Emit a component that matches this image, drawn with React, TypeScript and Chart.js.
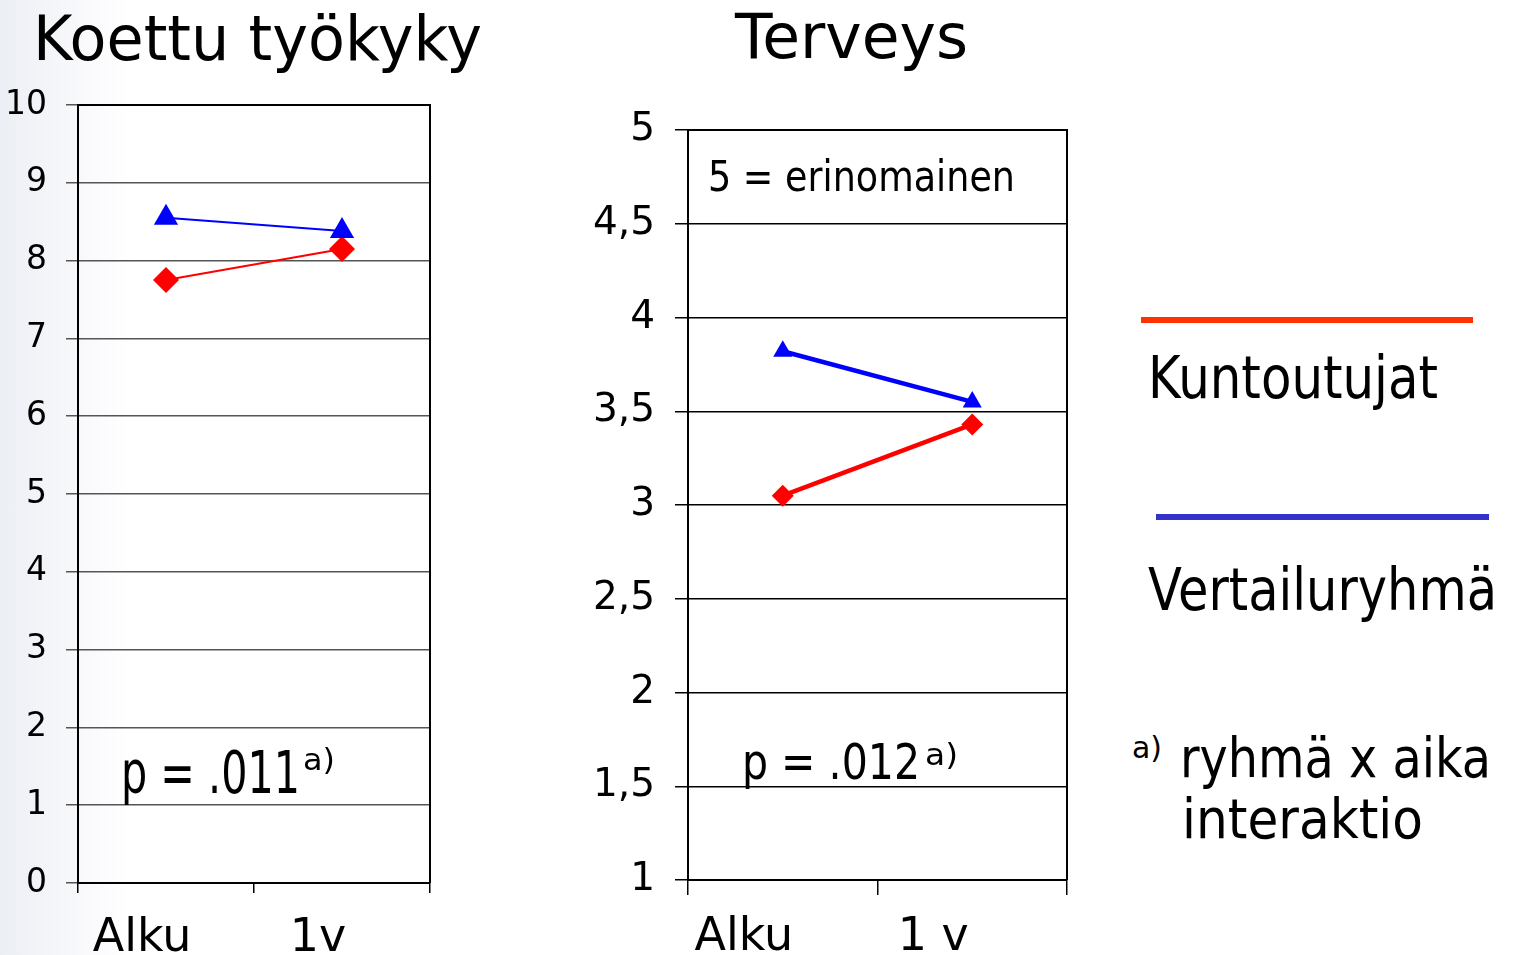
import React, { useEffect, useRef } from "react";
import { Chart, registerables } from "chart.js";

Chart.register(...registerables);

const FONT = '"DejaVu Sans", "Noto Sans", sans-serif';

// ---- data ----
const categories1 = ["Alku", "1v"];
const categories2 = ["Alku", "1 v"];
const seriesNames = ["Kuntoutujat", "Vertailuryhmä"];
const tyokykyKuntoutujat = [7.75, 8.15];
const tyokykyVertailu = [8.55, 8.38];
const terveysKuntoutujat = [3.05, 3.43];
const terveysVertailu = [3.82, 3.55];
const yTicks1 = ["0", "1", "2", "3", "4", "5", "6", "7", "8", "9", "10"];
const yTicks2 = ["1", "1,5", "2", "2,5", "3", "3,5", "4", "4,5", "5"];

const RED = "#FF0000";
const BLUE = "#0000FF";

const framePlugin = {
  id: "frame",
  beforeDatasetsDraw(chart: any) {
    const { ctx, chartArea } = chart;
    const { left, top, right, bottom } = chartArea;
    ctx.save();
    ctx.strokeStyle = "#000";
    ctx.lineWidth = 2;
    ctx.beginPath();
    ctx.moveTo(left, top);
    ctx.lineTo(right, top);
    ctx.lineTo(right, bottom);
    ctx.stroke();
    ctx.restore();
  },
};

type ChartProps = {
  left: number;
  top: number;
  width: number;
  height: number;
  area: { left: number; right: number; top: number; bottom: number };
  labels: string[];
  red: number[];
  blue: number[];
  yMin: number;
  yMax: number;
  yStep: number;
  yLabels: string[];
  yFont: number;
  yPad: number;
  yTickLen: number;
  gridColor: string;
  xFont: number;
  xPad: number;
  xTickLen: number;
  xLabelOffset: number;
  lineWidth: number;
  triRadius: number;
  diaRadius: number;
};

function LineChart(p: ChartProps) {
  const ref = useRef<HTMLCanvasElement | null>(null);
  useEffect(() => {
    if (!ref.current) return;
    const chart = new Chart(ref.current, {
      type: "line",
      data: {
        labels: p.labels,
        datasets: [
          {
            label: seriesNames[1],
            data: p.blue,
            borderColor: BLUE,
            backgroundColor: BLUE,
            borderWidth: p.lineWidth,
            pointStyle: "triangle",
            pointRadius: p.triRadius,
            pointBorderWidth: 0,
            pointBackgroundColor: BLUE,
            fill: false,
            tension: 0,
          },
          {
            label: seriesNames[0],
            data: p.red,
            borderColor: RED,
            backgroundColor: RED,
            borderWidth: p.lineWidth,
            pointStyle: "rectRot",
            pointRadius: p.diaRadius,
            pointBorderWidth: 0,
            pointBackgroundColor: RED,
            fill: false,
            tension: 0,
          },
        ],
      },
      options: {
        animation: false,
        responsive: false,
        devicePixelRatio: 1,
        layout: {
          padding: { left: 0, right: p.width - p.area.right, top: p.area.top, bottom: 0 },
        },
        plugins: { legend: { display: false }, tooltip: { enabled: false } },
        scales: {
          x: {
            type: "category",
            offset: true,
            grid: {
              display: true,
              drawOnChartArea: false,
              drawTicks: true,
              tickLength: p.xTickLen,
              color: "#000",
              lineWidth: 1.5,
              offset: true,
            },
            border: { display: true, color: "#000", width: 2 },
            ticks: {
              font: { family: FONT, size: p.xFont },
              color: "#000",
              padding: p.xPad,
              labelOffset: p.xLabelOffset,
              maxRotation: 0,
              autoSkip: false,
            },
            afterFit: (s: any) => {
              s.height = p.height - p.area.bottom;
            },
          },
          y: {
            min: p.yMin,
            max: p.yMax,
            ticks: {
              stepSize: p.yStep,
              autoSkip: false,
              callback: (_v: any, i: number) => p.yLabels[i],
              font: { family: FONT, size: p.yFont },
              color: "#000",
              padding: p.yPad,
            },
            grid: { color: p.gridColor, lineWidth: 1.5, tickLength: p.yTickLen },
            border: { display: true, color: "#000", width: 2 },
            afterFit: (s: any) => {
              s.width = p.area.left;
            },
          },
        },
      } as any,
      plugins: [framePlugin],
    });
    return () => chart.destroy();
  }, []);
  return (
    <canvas
      ref={ref}
      width={p.width}
      height={p.height}
      style={{ position: "absolute", left: p.left, top: p.top, width: p.width, height: p.height }}
    />
  );
}

let measureCtx: CanvasRenderingContext2D | null = null;
function FitText({ text, x, baseline, size, width }: { text: string; x: number; baseline: number; size: number; width?: number }) {
  if (!measureCtx) measureCtx = document.createElement("canvas").getContext("2d");
  const ctx = measureCtx!;
  ctx.font = `${size}px ${FONT}`;
  const m = ctx.measureText(text);
  const A = (m as any).fontBoundingBoxAscent ?? size * 0.928;
  const D = (m as any).fontBoundingBoxDescent ?? size * 0.236;
  const top = baseline - ((size - (A + D)) / 2 + A);
  const sx = width ? width / m.width : 1;
  return (
    <div
      style={{
        position: "absolute",
        left: x,
        top,
        fontFamily: FONT,
        fontSize: size,
        lineHeight: `${size}px`,
        whiteSpace: "pre",
        transform: `scaleX(${sx})`,
        transformOrigin: "0 0",
        color: "#000",
      }}
    >
      {text}
    </div>
  );
}

export default function App() {
  return (
    <div
      style={{
        position: "fixed",
        left: 0,
        top: 0,
        width: 1515,
        height: 955,
        overflow: "hidden",
        background: "linear-gradient(to right, #eceff5 0px, #f4f5f9 50px, #ffffff 130px)",
      }}
    >
      <LineChart
        left={0}
        top={0}
        width={450}
        height={1000}
        area={{ left: 78, right: 430, top: 105, bottom: 883 }}
        labels={categories1}
        red={tyokykyKuntoutujat}
        blue={tyokykyVertailu}
        yMin={0}
        yMax={10}
        yStep={1}
        yLabels={yTicks1}
        yFont={33}
        yPad={19}
        yTickLen={12}
        gridColor="#555"
        xFont={46}
        xPad={18}
        xTickLen={10}
        xLabelOffset={-24}
        lineWidth={2}
        triRadius={14}
        diaRadius={13}
      />
      <LineChart
        left={560}
        top={0}
        width={530}
        height={1000}
        area={{ left: 128, right: 507, top: 130, bottom: 880 }}
        labels={categories2}
        red={terveysKuntoutujat}
        blue={terveysVertailu}
        yMin={1}
        yMax={5}
        yStep={0.5}
        yLabels={yTicks2}
        yFont={39}
        yPad={20}
        yTickLen={13}
        gridColor="#000"
        xFont={46}
        xPad={15}
        xTickLen={15}
        xLabelOffset={-39}
        lineWidth={4.5}
        triRadius={11}
        diaRadius={11}
      />

      <FitText text="Koettu työkyky" x={33} baseline={60} size={62} width={449} />
      <FitText text="Terveys" x={735} baseline={58} size={62} width={233} />
      <FitText text="5 = erinomainen" x={708} baseline={191} size={42} width={307} />

      <FitText text="p = .011" x={121} baseline={793} size={58} width={179} />
      <FitText text="a)" x={303} baseline={770} size={30} width={32} />
      <FitText text="p = .012" x={742} baseline={779} size={50} width={178} />
      <FitText text="a)" x={925} baseline={765} size={30} width={33} />

      <div style={{ position: "absolute", left: 1141, top: 317, width: 332, height: 6, background: "#FF3300" }} />
      <FitText text={seriesNames[0]} x={1148} baseline={398} size={58} width={290} />
      <div style={{ position: "absolute", left: 1156, top: 514, width: 333, height: 6, background: "#3333CC" }} />
      <FitText text={seriesNames[1]} x={1148} baseline={610} size={58} width={349} />

      <FitText text="a)" x={1132} baseline={758} size={30} width={30} />
      <FitText text="ryhmä x aika" x={1180} baseline={777} size={56} width={311} />
      <FitText text="interaktio" x={1182} baseline={838} size={56} width={241} />
    </div>
  );
}
